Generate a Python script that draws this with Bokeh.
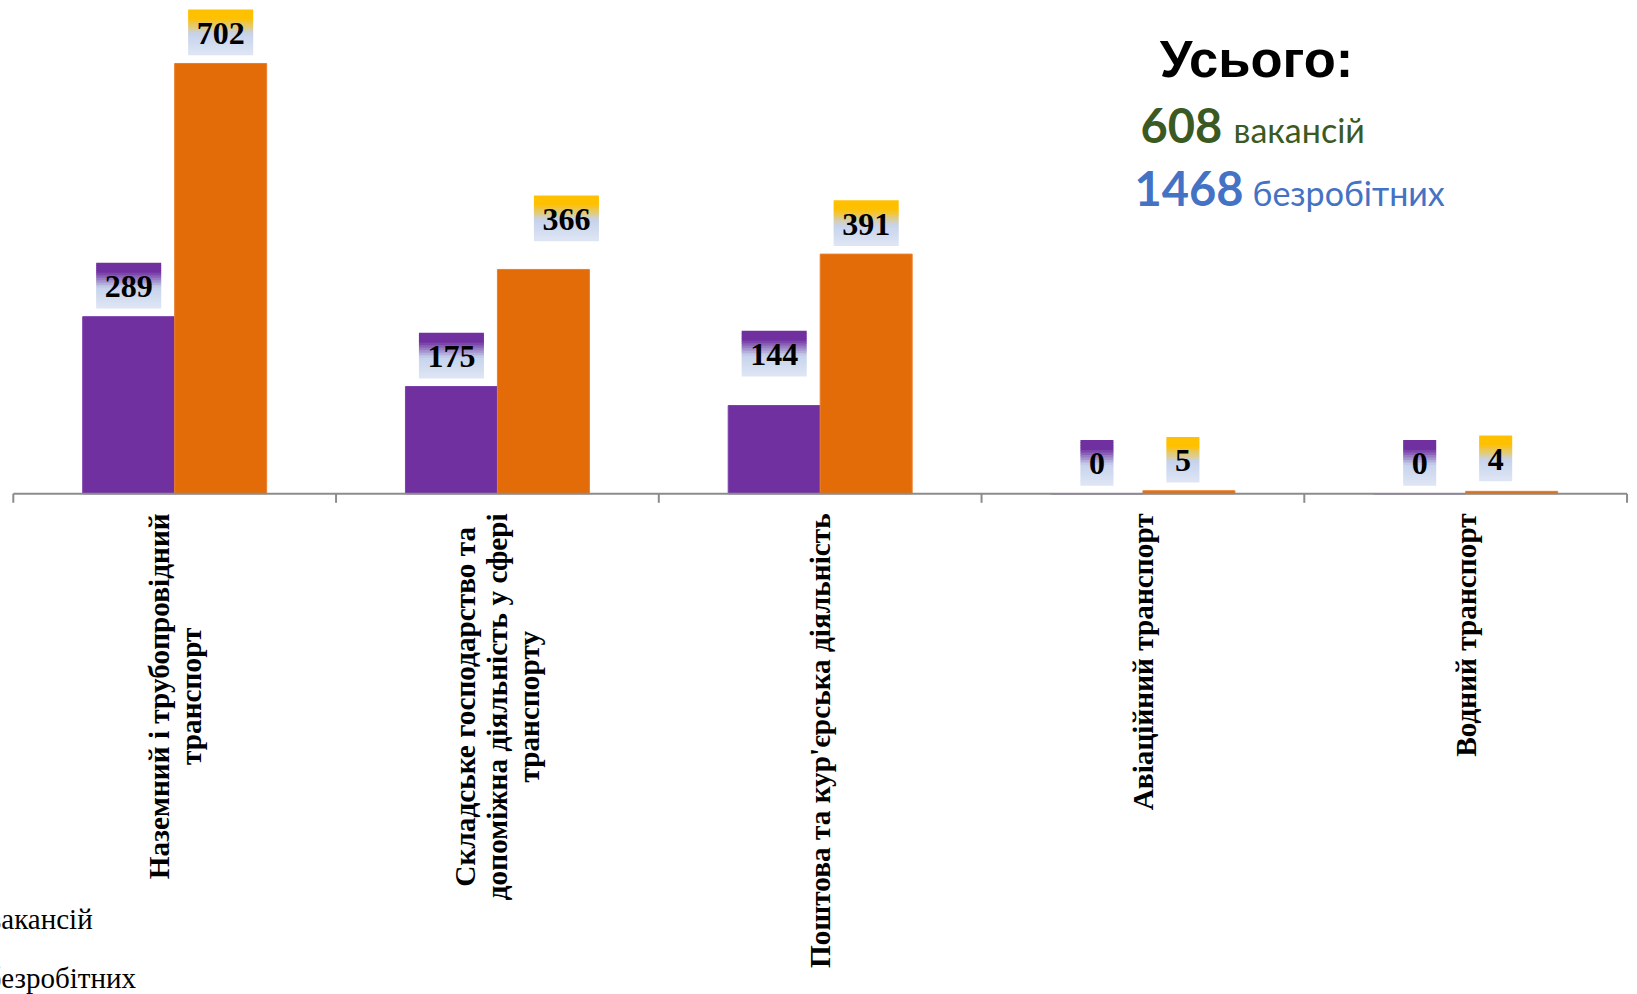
import numpy as np
from bokeh.plotting import figure
from bokeh.models import Range1d
from bokeh.core.properties import value
from bokeh.embed import file_html
from bokeh.resources import INLINE

# ---------------- data ----------------
categories = [
    "Наземний і трубопровідний\nтранспорт",
    "Складське господарство та\nдопоміжна діяльність у сфері\nтранспорту",
    "Поштова та кур'єрська діяльність",
    "Авіаційний транспорт",
    "Водний транспорт",
]
vacancies = [289, 175, 144, 0, 0]
unemployed = [702, 366, 391, 5, 4]
series_names = ["вакансій", "безробітних"]

# ---------------- layout constants (pixels) ----------------
W, H = 1637, 994
AXIS_Y = 493.3      # page y of the category axis
PY = 0.613          # pixels per unit on the value axis
X0 = 12.8           # page x of the first category boundary
PX = 322.75         # pixels per category
# extra lift / sideways shift (px) of individual value labels, as placed in the original
LIFT_V = [0, 0, 21, 0, 0]
LIFT_U = [0, 20, 0, 0, 2]
SHIFT_V = [0, 0, 0, 0, 0]
SHIFT_U = [0, 23, 0, -6, -16]

PURPLE = "#7030A0"
ORANGE = "#E36C09"
GREEN = "#3B5A23"
BLUE = "#4472C4"


def dx(px):
    return px / PX


def dy(px):
    return px / PY


def page_x(x):
    return (x - X0) / PX


def page_y(y):
    return (AXIS_Y - y) / PY


p = figure(
    width=W, height=H,
    x_range=Range1d(page_x(0), page_x(W)),
    y_range=Range1d(page_y(H), page_y(0)),
    output_backend="svg", toolbar_location=None,
    x_axis_type=None, y_axis_type=None,
    min_border=0, outline_line_color=None,
)
p.grid.visible = False
p.background_fill_color = "white"
p.border_fill_color = "white"

n = len(categories)
idx = np.arange(n)
BW = 0.285
xv = idx + 0.5 - BW / 2
xu = idx + 0.5 + BW / 2

p.vbar(x=xv, top=vacancies, bottom=0, width=BW, fill_color=PURPLE, line_color="#7C40AA", line_width=1)
p.vbar(x=xu, top=unemployed, bottom=0, width=BW, fill_color=ORANGE, line_color="#EA7E2C", line_width=1)

# category axis (line + boundary ticks)
p.segment(x0=[0], x1=[n], y0=[0], y1=[0], line_color="#8C8C8C", line_width=2)
p.segment(x0=list(range(n + 1)), x1=list(range(n + 1)), y0=[0] * (n + 1), y1=[-dy(9)] * (n + 1),
          line_color="#8C8C8C", line_width=2)


# ---------------- gradient label boxes ----------------
def hex2rgb(h):
    h = h.lstrip("#")
    return [int(h[i:i + 2], 16) for i in (0, 2, 4)]


def rgb2hex(c):
    return "#%02x%02x%02x" % tuple(int(round(v)) for v in c)


def grad(top, t):
    stops = [(0.0, top), (0.2, top), (0.55, "#C6D3EC"), (1.0, "#DFE6F4")]
    for (a, ca), (b, cb) in zip(stops[:-1], stops[1:]):
        if a <= t <= b:
            f = 0 if b == a else (t - a) / (b - a)
            r1, r2 = hex2rgb(ca), hex2rgb(cb)
            return rgb2hex([r1[i] + (r2[i] - r1[i]) * f for i in range(3)])
    return stops[-1][1]


GAP, BH, NS = 8.5, 45.0, 18
sx, sy, sw, sc = [], [], [], []
tx, ty, tt = [], [], []
for xs, vals, lifts, shifts, top in ((xv, vacancies, LIFT_V, SHIFT_V, PURPLE),
                                     (xu, unemployed, LIFT_U, SHIFT_U, "#FFC000")):
    for x, v, lift, sh in zip(xs, vals, lifts, shifts):
        s = str(v)
        wpx = 16 * len(s) + 17
        base = GAP + lift
        cx = x + dx(sh)
        for k in range(NS):
            t = (k + 0.5) / NS
            sx.append(cx)
            sy.append(v + dy(base + BH * (1 - t)))
            sw.append(wpx)
            sc.append(grad(top, t))
        tx.append(cx)
        ty.append(v + dy(base + BH / 2 - 1))
        tt.append(s)

p.rect(x=sx, y=sy, width=sw, height=BH / NS + 0.7, width_units="screen", height_units="screen",
       fill_color=sc, line_color=None)
p.text(x=tx, y=ty, text=tt, text_align="center", text_baseline="middle",
       text_font=value("Liberation Serif"), text_font_style="bold", text_font_size="32px",
       text_color="black")

# ---------------- category labels ----------------
p.text(x=idx + 0.5, y=[-dy(19.5)] * n, text=categories, angle=np.pi / 2,
       text_align="center", text_baseline="middle", anchor=value("center_right"),
       text_font=value("Liberation Serif"), text_font_style="bold", text_font_size="29.3px",
       text_line_height=1.0, text_color="black")

# ---------------- partially hidden legend text ----------------
p.text(x=[page_x(-12.5), page_x(-13.5)], y=[page_y(918), page_y(977)], text=series_names,
       text_align="left", text_baseline="middle",
       text_font=value("Liberation Serif"), text_font_size="29px", text_color="black")

# ---------------- totals block ----------------
total_v = sum(vacancies)
total_u = sum(unemployed)
p.text(x=[page_x(1256)], y=[page_y(58)], text=["Усього:"], text_align="center",
       text_baseline="middle", text_font=value("Liberation Sans"), text_font_style="bold",
       text_font_size="52.5px", text_color="black")
p.text(x=[page_x(1140), page_x(1134)], y=[page_y(124.5), page_y(187.5)],
       text=[str(total_v), str(total_u)], text_color=[GREEN, BLUE],
       text_align="left", text_baseline="middle", text_font=value("Lato"),
       text_font_style="bold", text_font_size="47px")
p.text(x=[page_x(1233), page_x(1252)], y=[page_y(129), page_y(192)],
       text=series_names, text_color=[GREEN, BLUE],
       text_align="left", text_baseline="middle", text_font=value("Lato"),
       text_font_size="34px")

open("out.html", "w").write(file_html(p, INLINE))
